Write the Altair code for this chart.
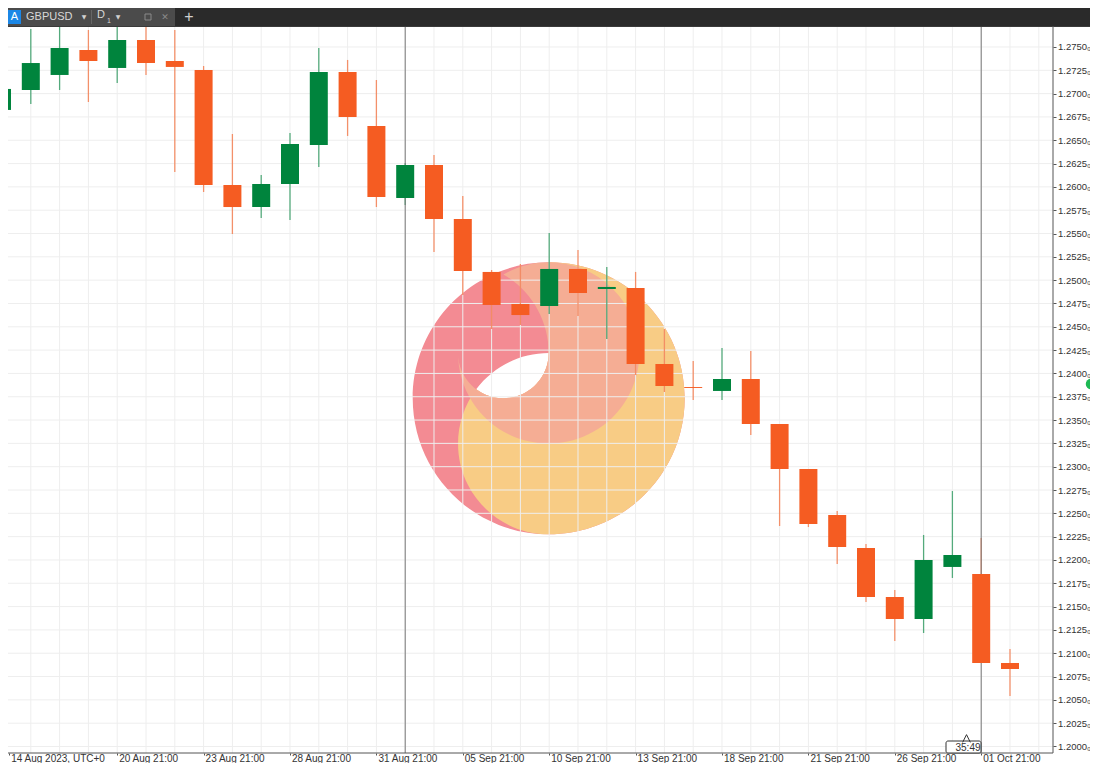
import altair as alt
import pandas as pd

# ---------- candles (prices) ----------
index = list(range(36))
opens = [1.26825,1.27039,1.27200,1.27468,1.27275,1.27575,1.27350,1.27253,1.26020,1.25784,1.26031,1.26449,1.27232,1.26653,1.25881,1.26235,1.25656,1.25088,1.24744,1.24723,1.25120,1.24905,1.24916,1.24101,1.23854,1.23812,1.23940,1.23458,1.22975,1.22482,1.22128,1.21603,1.21367,1.21925,1.21850,1.20895]
closes = [1.27050,1.27328,1.27489,1.27350,1.27575,1.27328,1.27286,1.26020,1.25784,1.26031,1.26460,1.27232,1.26749,1.25892,1.26235,1.25656,1.25098,1.24734,1.24626,1.25120,1.24862,1.24927,1.24101,1.23865,1.23844,1.23940,1.23458,1.22975,1.22386,1.22139,1.21603,1.21367,1.22000,1.22053,1.20895,1.20831]
highs = [1.27543,1.27693,1.27725,1.27682,1.27725,1.27725,1.27682,1.27296,1.26567,1.26128,1.26578,1.27489,1.27361,1.27146,1.26256,1.26342,1.25902,1.25109,1.25173,1.25506,1.25323,1.25141,1.25088,1.24476,1.24133,1.24273,1.24241,1.23458,1.22975,1.22525,1.22171,1.21678,1.22268,1.22739,1.22235,1.21045]
lows = [1.26696,1.26889,1.27039,1.26910,1.27114,1.27200,1.26160,1.25945,1.25495,1.25667,1.25645,1.26213,1.26546,1.25784,1.25806,1.25302,1.24841,1.24476,1.24519,1.24637,1.24616,1.24369,1.23983,1.23801,1.23715,1.23715,1.23340,1.22364,1.22353,1.21957,1.21549,1.21131,1.21217,1.21807,1.20895,1.20541]

# ---------- axes ----------
price_ticks = [1.2000,1.2025,1.2050,1.2075,1.2100,1.2125,1.2150,1.2175,1.2200,1.2225,1.2250,1.2275,1.2300,1.2325,1.2350,1.2375,1.2400,1.2425,1.2450,1.2475,1.2500,1.2525,1.2550,1.2575,1.2600,1.2625,1.2650,1.2675,1.2700,1.2725,1.2750]
grid_columns = list(range(1, 37))
date_ticks = [0.25, 4, 7, 10, 13, 16, 19, 22, 25, 28, 31, 34]
date_labels = ["14 Aug 2023, UTC+0","20 Aug 21:00","23 Aug 21:00","28 Aug 21:00","31 Aug 21:00","05 Sep 21:00","10 Sep 21:00","13 Sep 21:00","18 Sep 21:00","21 Sep 21:00","26 Sep 21:00","01 Oct 21:00"]
marker_columns = [14, 34]

FONT = "Liberation Sans"
UP, DOWN = "#00843d", "#f55c22"
GRID = "#eeeeee"
AXIS = "#555555"
VIEW_W, VIEW_H = 1082, 755
X_DOMAIN = [0.2083, 37.778]
Y_DOMAIN = [1.19823, 1.27918]
PLOT_TOP, PLOT_BOTTOM = 1.27723, 1.19930
PLOT_RIGHT = 36.49

x_sc = alt.Scale(domain=X_DOMAIN, nice=False, zero=False, padding=0)
y_sc = alt.Scale(domain=Y_DOMAIN, nice=False, zero=False, padding=0)
expr = "".join(f"datum.value=={v}?'{t}':" for v, t in zip(date_ticks, date_labels)) + "''"
x_axis = alt.Axis(
    orient="bottom", offset=-10, values=date_ticks, labelExpr=expr, title=None, grid=False, domain=False, zindex=1,
    tickSize=2, tickColor=AXIS, labelAlign="left", labelBaseline="alphabetic", labelPadding=6, labelOffset=1.5,
    labelFont=FONT, labelFontSize=10, labelColor="#333333", labelOverlap=False, labelFlush=False, labelBound=False)
y_axis = alt.Axis(
    orient="right", offset=-37, values=price_ticks, labelExpr="format(datum.value,'.4f')+'₀'", title=None, grid=False, domain=False, zindex=1,
    tickSize=3, tickColor=AXIS, labelPadding=1.5, labelFont=FONT, labelFontSize=9.5, labelColor="#333333",
    labelOverlap=False, labelFlush=False, labelBound=False)
X = lambda f: alt.X(f, type="quantitative", scale=x_sc, axis=x_axis)
Y = lambda f: alt.Y(f, type="quantitative", scale=y_sc, axis=y_axis)

df = pd.DataFrame({"i": index, "open": opens, "close": closes, "high": highs, "low": lows})
df["dir"] = ["up" if c > o else "down" for o, c in zip(opens, closes)]
color = alt.Color("dir:N", scale=alt.Scale(domain=["up", "down"], range=[UP, DOWN]), legend=None)

# ---------- watermark: paths on a unit square, radius 1 ----------
LOGO_SHAPES = [
    ("M0,-1A1,1 0 1 1 0,1A1,1 0 1 1 0,-1ZM0,-.3333A.6667,.6667 0 0 0 -.5333,-.0667A.3333,.3333 0 0 0 0,-.3333Z", "#f38b93"),
    ("M0,-1A1,1 0 0 1 0,1A.6667,.6667 0 0 1 -.5333,-.0667A.3333,.3333 0 0 0 0,-.3333Z", "#f8cc85"),
    ("M-.6667,-.3333A.6667,.6667 0 1 0 -.3333,-.9107A.6667,.6667 0 0 1 0,-.3333A.3333,.3333 0 0 1 -.6667,-.3333Z", "#f5ad94"),
]
logo_df = pd.DataFrame({"i": [18.983], "p": [1.23733]})
logo = [
    alt.Chart(logo_df).mark_point(shape=s, filled=True, size=272 * 272, opacity=1, color=c, strokeWidth=0)
    .encode(x=X("i"), y=Y("p"))
    for s, c in LOGO_SHAPES
]

# ---------- grid ----------
v_grid = alt.Chart(pd.DataFrame({"i": grid_columns, "a": PLOT_TOP, "b": PLOT_BOTTOM})).mark_rule(color=GRID, strokeWidth=1).encode(
    x=X("i"), y=Y("a"), y2="b")
h_grid = alt.Chart(pd.DataFrame({"p": price_ticks, "a": X_DOMAIN[0], "b": PLOT_RIGHT})).mark_rule(color=GRID, strokeWidth=1).encode(
    y=Y("p"), x=X("a"), x2="b")

# ---------- candles ----------
wicks = alt.Chart(df).mark_rule(strokeWidth=1.3, opacity=0.65).encode(x=X("i"), y=Y("high"), y2="low", color=color)
markers = alt.Chart(pd.DataFrame({"i": marker_columns, "a": PLOT_TOP, "b": PLOT_BOTTOM})).mark_rule(color="#777777", strokeWidth=1).encode(
    x=X("i"), y=Y("a"), y2="b")
bodies = alt.Chart(df).mark_bar(size=18).encode(x=X("i"), y=Y("open"), y2="close", color=color)

# ---------- window furniture, positioned in pixels ----------
one = alt.Data(values=[{}])
def box(x0, x1, y0, y1, fill, **kw):
    return alt.Chart(one).mark_rect(color=fill, **kw).encode(
        x=alt.value(x0 - 8), x2=alt.value(x1 - 8), y=alt.value(y0 - 8), y2=alt.value(y1 - 8))
def line(x0, x1, y0, y1, col="#555555", w=1):
    return alt.Chart(one).mark_rule(color=col, strokeWidth=w).encode(
        x=alt.value(x0 - 8), x2=alt.value(x1 - 8), y=alt.value(y0 - 8), y2=alt.value(y1 - 8))
def label(s, x, y, size=10, col="#d8d8d8", align="left", font=FONT):
    return alt.Chart(one).mark_text(text=s, fontSize=size, color=col, align=align, baseline="middle", font=font).encode(
        x=alt.value(x - 8), y=alt.value(y - 8))

chrome = [
    box(8, 1090, 8, 26, "#2a2a2a"),
    box(8, 175, 8, 26, "#4b4b4b"),
    line(8, 1090, 26.5, 26.5, "#3a3a3a", 1),
    box(8, 21, 10, 24, "#1b87e6"),
    label("A", 14.5, 17, 11, "#ffffff", "center"),
    label("GBPUSD", 26, 17, 11, "#d8d8d8"),
    label("▼", 84, 17, 6, "#d0d0d0", "center", "DejaVu Sans"),
    line(91.5, 91.5, 10, 24, "#666666"),
    label("D", 97, 15, 11, "#d8d8d8"),
    label("1", 107, 21, 7, "#d8d8d8"),
    label("▼", 118, 17, 6, "#d0d0d0", "center", "DejaVu Sans"),
    label("✕", 165, 17, 9, "#8a8a8a", "center", "DejaVu Sans"),
    box(145, 151, 14, 20, "transparent", stroke="#8a8a8a", strokeWidth=1),
    label("+", 189, 17, 16, "#cfcfcf", "center"),
    line(1053, 1053, 26, 753),
    line(8, 1053, 753, 753),
    alt.Chart(one).mark_point(shape="circle", filled=True, size=110, color="#1db954", opacity=1).encode(
        x=alt.value(1091 - 8), y=alt.value(384 - 8)),
    box(946, 981, 741, 753, "#ffffff", stroke="#333333", strokeWidth=1, cornerRadius=2),
    alt.Chart(one).mark_point(shape="M-1,1L0,-1L1,1", size=60, filled=False, color="#333333", strokeWidth=1, opacity=1).encode(
        x=alt.value(966.5 - 8), y=alt.value(738.5 - 8)),
    label("35:49", 968, 747.5, 10, "#333333", "center"),
]

chart = alt.layer(*logo, v_grid, h_grid, wicks, markers, bodies, *chrome).properties(
    width=VIEW_W, height=VIEW_H, background="#ffffff",
    padding=0, autosize=alt.AutoSizeParams(type="none"),
).configure_view(stroke=None)

chart.save("out.html", embed_options={"renderer": "svg", "actions": False})
